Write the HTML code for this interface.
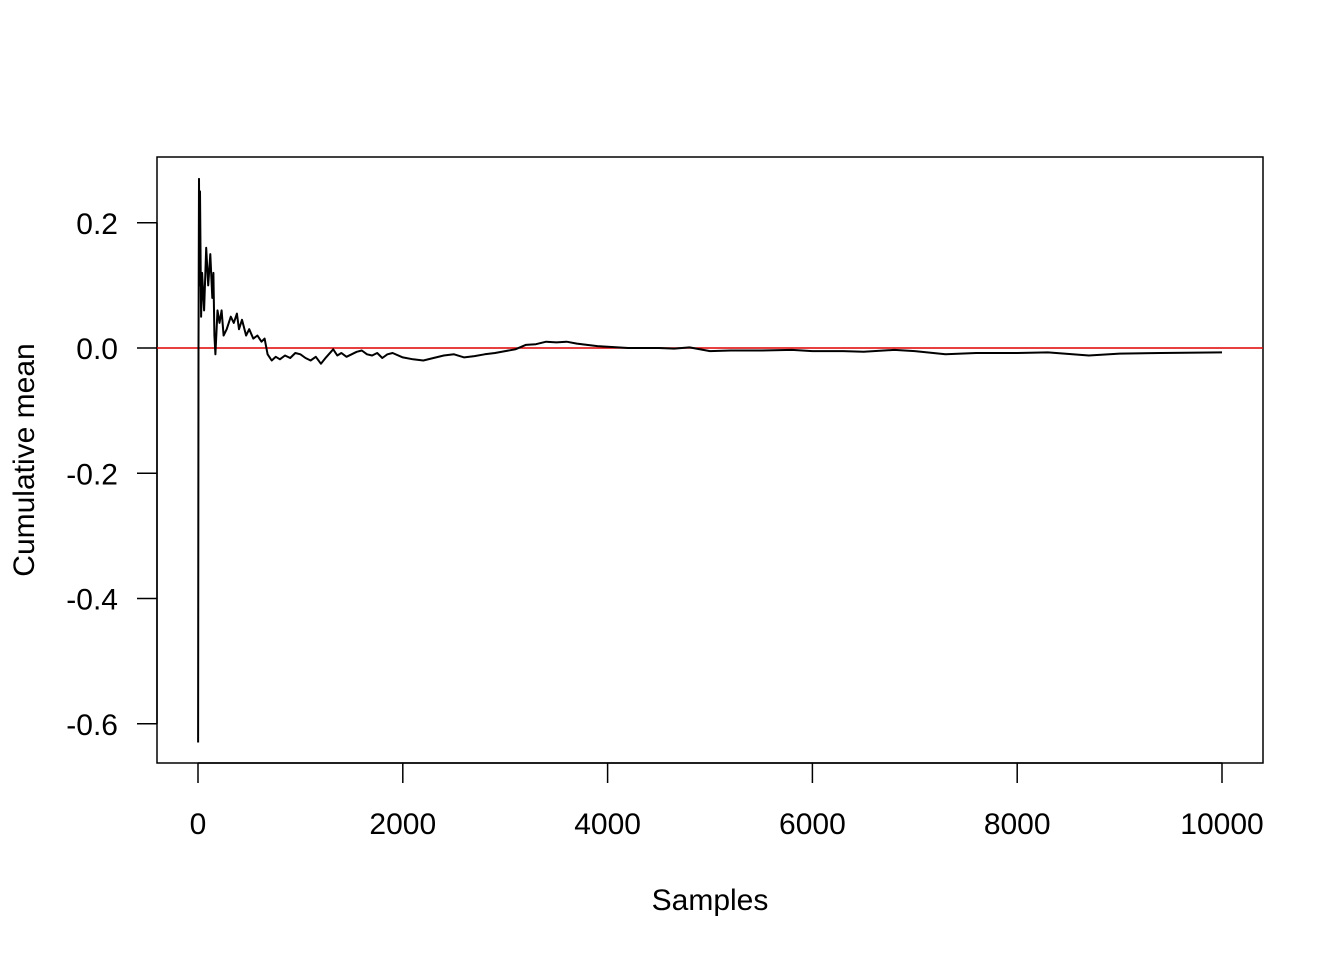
<!DOCTYPE html>
<html><head><meta charset="utf-8"><style>
body{margin:0;background:#fff}
svg text{font-family:"Liberation Sans",Arial,sans-serif;font-size:30px;fill:#000}
</style></head><body>
<svg id="chart" width="1344" height="960">
<rect x="157" y="157" width="1106" height="606" fill="none" stroke="#000" stroke-width="1.5"/>
<g id="xaxis"></g>
<g id="yaxis"></g>
<line id="refline" stroke="#e00000" stroke-width="1.5"/>
<path id="series" fill="none" stroke="#000" stroke-width="2" stroke-linejoin="round"/>
<text x="710" y="910" text-anchor="middle">Samples</text>
<text transform="translate(34,460) rotate(-90)" text-anchor="middle">Cumulative mean</text>
</svg>
<script>
const xTicks=[0,2000,4000,6000,8000,10000];
const yTicks=[0.2,0.0,-0.2,-0.4,-0.6];
const yTickLabels=["0.2","0.0","-0.2","-0.4","-0.6"];
const refValue=0;
const samples=[1,5,10,15,20,30,40,60,80,100,120,140,150,160,170,190,210,230,250,280,320,350,380,400,430,470,500,540,580,620,650,680,720,760,800,850,900,950,1000,1050,1100,1150,1200,1250,1320,1360,1400,1450,1500,1550,1600,1650,1700,1750,1800,1850,1900,2000,2100,2200,2300,2400,2500,2600,2700,2800,2900,3000,3100,3200,3300,3400,3500,3600,3700,3800,3900,4000,4200,4500,4650,4800,5000,5200,5500,5800,6000,6300,6500,6800,7000,7300,7600,8000,8300,8700,9000,9400,10000];
const means=[-0.63,0.0,0.27,0.1,0.25,0.05,0.12,0.06,0.16,0.1,0.15,0.08,0.12,0.02,-0.01,0.06,0.04,0.06,0.02,0.03,0.05,0.04,0.055,0.03,0.045,0.02,0.03,0.015,0.02,0.01,0.015,-0.01,-0.02,-0.014,-0.018,-0.012,-0.016,-0.008,-0.01,-0.016,-0.02,-0.014,-0.025,-0.015,-0.002,-0.012,-0.008,-0.014,-0.01,-0.006,-0.004,-0.01,-0.012,-0.008,-0.016,-0.01,-0.008,-0.015,-0.018,-0.02,-0.016,-0.012,-0.01,-0.015,-0.013,-0.01,-0.008,-0.005,-0.002,0.005,0.006,0.01,0.009,0.01,0.007,0.005,0.003,0.002,0.0,0.0,-0.001,0.001,-0.005,-0.004,-0.004,-0.003,-0.005,-0.005,-0.006,-0.003,-0.005,-0.01,-0.008,-0.008,-0.007,-0.012,-0.009,-0.008,-0.007];
const X=v=>198+v*(1222-198)/10000;
const Y=v=>348-v*626.25;
const NS="http://www.w3.org/2000/svg";
const xa=document.getElementById('xaxis'),ya=document.getElementById('yaxis');
xa.innerHTML+=`<line x1="${X(xTicks[0])}" x2="${X(xTicks[xTicks.length-1])}" y1="763" y2="763" stroke="#000" stroke-width="1.5"/>`;
xTicks.forEach(t=>{
 const l=document.createElementNS(NS,'line');
 l.setAttribute('x1',X(t));l.setAttribute('x2',X(t));l.setAttribute('y1',763);l.setAttribute('y2',783);l.setAttribute('stroke','#000');l.setAttribute('stroke-width',1.5);
 
 
 xa.appendChild(l);
 const tx=document.createElementNS(NS,'text');
 tx.setAttribute('x',X(t));tx.setAttribute('y',834);tx.setAttribute('text-anchor','middle');tx.textContent=t;
 
 
 xa.appendChild(tx);
});
ya.innerHTML+=`<line x1="157" x2="157" y1="${Y(yTicks[0])}" y2="${Y(yTicks[yTicks.length-1])}" stroke="#000" stroke-width="1.5"/>`;
yTicks.forEach((t,i)=>{
 const l=document.createElementNS(NS,'line');
 l.setAttribute('x1',137);l.setAttribute('x2',157);l.setAttribute('y1',Y(t));l.setAttribute('y2',Y(t));l.setAttribute('stroke','#000');l.setAttribute('stroke-width',1.5);
 
 
 ya.appendChild(l);
 const tx=document.createElementNS(NS,'text');
 tx.setAttribute('x',118);tx.setAttribute('y',Y(t)+11);tx.setAttribute('text-anchor','end');tx.textContent=yTickLabels[i];
 
 
 ya.appendChild(tx);
});
const r=document.getElementById('refline');
r.setAttribute('x1',157);r.setAttribute('x2',1263);r.setAttribute('y1',Y(refValue));r.setAttribute('y2',Y(refValue));
document.getElementById('series').setAttribute('d',samples.map((s,i)=>(i?'L':'M')+X(s).toFixed(1)+','+Y(means[i]).toFixed(1)).join(''));
</script>
</body></html>
